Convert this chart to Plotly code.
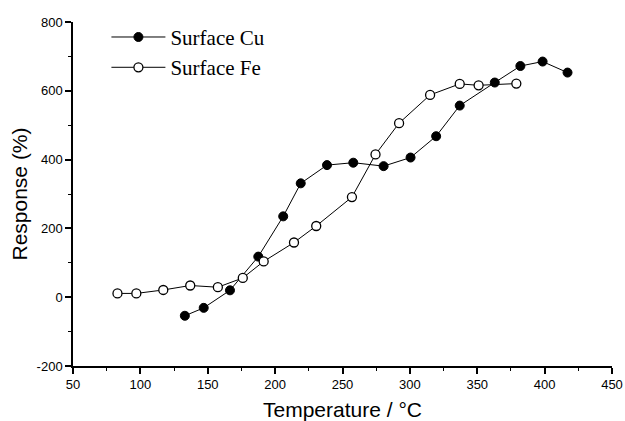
import plotly.graph_objects as go

# Surface Cu (filled circles)
cu_temp = [133, 147, 166.5, 187.5, 206, 219, 238.5, 258, 280.5, 300.5, 319.5, 337, 363, 382, 398.5, 417]
cu_resp = [-54, -31, 20, 118, 235, 331, 384, 391, 381, 406, 468, 557, 624, 672, 685, 653]

# Surface Fe (open circles)
fe_temp = [83, 97, 117, 137, 157.5, 176, 191.5, 214, 230.5, 257, 274.5, 292, 315, 337, 351, 379]
fe_resp = [11, 11, 21, 34, 29, 56, 104, 159, 207, 291, 415, 506, 588, 620, 616, 621]

x_ticks = [50, 100, 150, 200, 250, 300, 350, 400, 450]
y_ticks = [-200, 0, 200, 400, 600, 800]

fig = go.Figure()
fig.add_trace(go.Scatter(
    x=cu_temp, y=cu_resp, mode="lines+markers", name="Surface Cu",
    line=dict(color="black", width=1),
    marker=dict(symbol="circle", size=9, color="black", line=dict(color="black", width=1)),
))
fig.add_trace(go.Scatter(
    x=fe_temp, y=fe_resp, mode="lines+markers", name="Surface Fe",
    line=dict(color="black", width=1),
    marker=dict(symbol="circle", size=9, color="white", line=dict(color="black", width=1.3)),
))

axis_font = dict(family="Liberation Sans, Arial, sans-serif", size=13, color="black")
title_font = dict(family="Liberation Sans, Arial, sans-serif", size=21, color="black")

fig.update_layout(
    width=625, height=421,
    margin=dict(l=73, r=13, t=22, b=55),
    paper_bgcolor="white", plot_bgcolor="white",
    showlegend=True,
    legend=dict(
        x=0.062, y=1.015, xanchor="left", yanchor="top",
        font=dict(family="Liberation Serif, Times New Roman, serif", size=21, color="black"),
        bgcolor="rgba(0,0,0,0)", borderwidth=0, itemwidth=54,
    ),
    xaxis=dict(
        range=[50, 450], tickmode="array", tickvals=x_ticks, ticktext=[str(v) for v in x_ticks],
        showgrid=False, zeroline=False, showline=True, linecolor="black", linewidth=1.5,
        ticks="outside", ticklen=6, tickwidth=1.5, tickcolor="black", tickfont=axis_font,
        minor=dict(dtick=25, tick0=50, ticks="outside", ticklen=3, tickwidth=1, tickcolor="black", showgrid=False),
        title=dict(text="Temperature / °C", font=title_font, standoff=12),
        automargin=False,
    ),
    yaxis=dict(
        range=[-200, 800], tickmode="array", tickvals=y_ticks, ticktext=[str(v) for v in y_ticks],
        showgrid=False, zeroline=False, showline=True, linecolor="black", linewidth=1.5,
        ticks="outside", ticklen=6, tickwidth=1.5, tickcolor="black", tickfont=axis_font,
        minor=dict(dtick=100, tick0=-200, ticks="outside", ticklen=3, tickwidth=1, tickcolor="black", showgrid=False),
        title=dict(text="Response (%)", font=title_font, standoff=3),
        automargin=False,
    ),
)

fig.write_html("out.html")
